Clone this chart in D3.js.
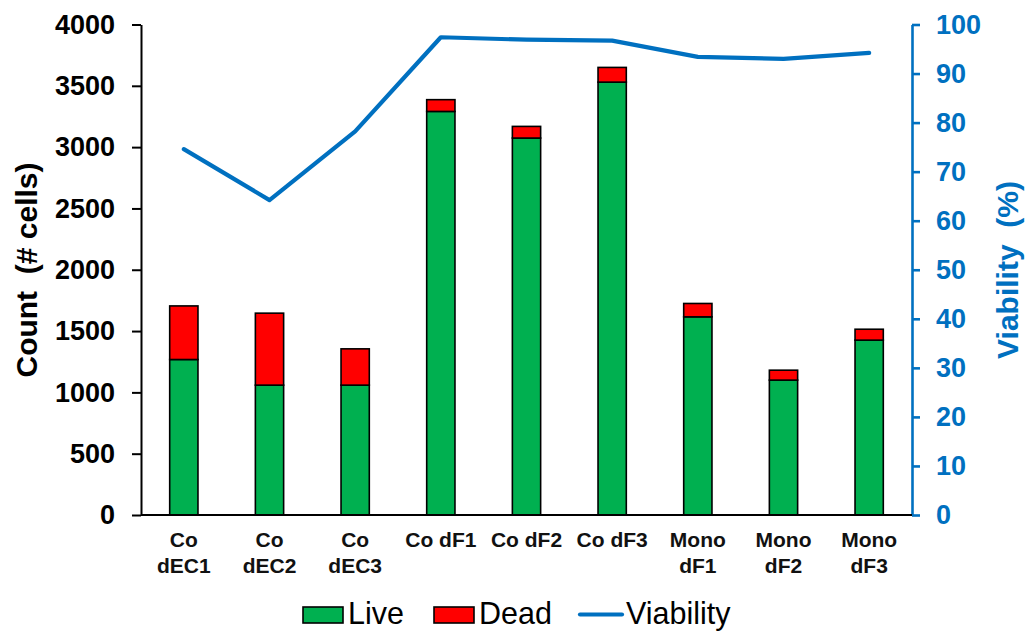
<!DOCTYPE html>
<html>
<head>
<meta charset="utf-8">
<script src="https://cdn.jsdelivr.net/npm/d3@7"></script>
<style>
  html, body { margin: 0; padding: 0; background: #fff; }
  svg { display: block; font-family: "Liberation Sans", Arial, sans-serif; }
</style>
</head>
<body>
<svg id="chart" width="1029" height="633"></svg>
<script>
// Sample groups (two-line labels split on "\n")
const categories = ["Co\ndEC1", "Co\ndEC2", "Co\ndEC3", "Co dF1", "Co dF2", "Co dF3", "Mono\ndF1", "Mono\ndF2", "Mono\ndF3"];
// Cell counts
const liveCounts = [1268, 1059, 1059, 3291, 3074, 3530, 1616, 1100, 1426];
const deadCounts = [437, 587, 296, 96, 95, 120, 109, 81, 89];
// Viability (%)
const viability = [74.6, 64.2, 78.2, 97.4, 96.9, 96.7, 93.4, 93.0, 94.2];
// Axis ticks
const countTicks = [0, 500, 1000, 1500, 2000, 2500, 3000, 3500, 4000];
const viabilityTicks = [0, 10, 20, 30, 40, 50, 60, 70, 80, 90, 100];

const GREEN = "#00B050", RED = "#FF0000", BLUE = "#0070C0";

const svg = d3.select("#chart");
const plotLeft = 141, plotRight = 912, plotTop = 24.5, plotBottom = 515;

const x = d3.scaleBand().domain(categories).range([plotLeft, plotRight]).paddingInner(0.67).paddingOuter(0.335);
const yCount = d3.scaleLinear().domain([0, 4000]).range([plotBottom, plotTop]);
const yViab = d3.scaleLinear().domain([0, 100]).range([plotBottom, plotTop]);

// Stacked bars: live at the base, dead on top
const rows = categories.map((c, i) => ({ cat: c, Live: liveCounts[i], Dead: deadCounts[i] }));
const stack = d3.stack().keys(["Live", "Dead"])(rows);
const colors = { Live: GREEN, Dead: RED };

svg.append("g").selectAll("g")
  .data(stack).join("g")
  .attr("fill", d => colors[d.key])
  .selectAll("rect")
  .data(d => d).join("rect")
  .attr("x", d => x(d.data.cat))
  .attr("width", x.bandwidth())
  .attr("y", d => yCount(d[1]))
  .attr("height", d => yCount(d[0]) - yCount(d[1]))
  .attr("stroke", "#000")
  .attr("stroke-width", 1.6);

// Left axis (count)
const leftAxis = svg.append("g")
  .attr("transform", `translate(${plotLeft},0)`)
  .call(d3.axisLeft(yCount).tickValues(countTicks).tickFormat(d3.format("d"))
    .tickSize(9).tickPadding(17).tickSizeOuter(0));
leftAxis.select(".domain").attr("stroke", "#000").attr("stroke-width", 2);
leftAxis.selectAll(".tick line").attr("stroke", "#000").attr("stroke-width", 2);
leftAxis.selectAll(".tick text")
  .attr("fill", "#000").attr("font-size", 27).attr("font-weight", "bold")
  .attr("font-family", "Liberation Sans, Arial, sans-serif");

// Right axis (viability)
const rightAxis = svg.append("g")
  .attr("transform", `translate(${plotRight},0)`)
  .call(d3.axisRight(yViab).tickValues(viabilityTicks).tickFormat(d3.format("d"))
    .tickSize(8).tickPadding(16).tickSizeOuter(0));
rightAxis.select(".domain").attr("stroke", BLUE).attr("stroke-width", 2.6);
rightAxis.selectAll(".tick line").attr("stroke", BLUE).attr("stroke-width", 2.6);
rightAxis.selectAll(".tick text")
  .attr("fill", BLUE).attr("font-size", 27).attr("font-weight", "bold")
  .attr("font-family", "Liberation Sans, Arial, sans-serif");

// Baseline
svg.append("line")
  .attr("x1", plotLeft).attr("x2", plotRight)
  .attr("y1", plotBottom).attr("y2", plotBottom)
  .attr("stroke", "#000").attr("stroke-width", 2);

// Category labels
const xl = svg.append("g").selectAll("text")
  .data(categories).join("text")
  .attr("x", d => x(d) + x.bandwidth() / 2)
  .attr("y", 547)
  .attr("text-anchor", "middle")
  .attr("font-size", 21).attr("font-weight", "bold").attr("fill", "#111");
xl.selectAll("tspan")
  .data(d => d.split("\n")).join("tspan")
  .attr("x", function () { return this.parentNode.getAttribute("x"); })
  .attr("dy", (d, i) => i === 0 ? 0 : 25.5)
  .text(d => d);

// Viability line
const line = d3.line()
  .x((d, i) => x(categories[i]) + x.bandwidth() / 2)
  .y(d => yViab(d));
svg.append("path")
  .datum(viability)
  .attr("d", line)
  .attr("fill", "none")
  .attr("stroke", BLUE)
  .attr("stroke-width", 4.2)
  .attr("stroke-linejoin", "round")
  .attr("stroke-linecap", "round");

// Axis titles
svg.append("text")
  .attr("transform", "translate(37,270) rotate(-90)")
  .attr("text-anchor", "middle")
  .attr("font-size", 30).attr("font-weight", "bold").attr("fill", "#000")
  .style("white-space", "pre")
  .text("Count  (# cells)");
svg.append("text")
  .attr("transform", "translate(1018,270) rotate(-90)")
  .attr("text-anchor", "middle")
  .attr("font-size", 30).attr("font-weight", "bold").attr("fill", BLUE)
  .style("white-space", "pre")
  .text("Viability  (%)");

// Legend
const legend = svg.append("g");
const legendItems = [
  { label: "Live", type: "rect", color: GREEN, x: 303 },
  { label: "Dead", type: "rect", color: RED, x: 434 },
  { label: "Viability", type: "line", color: BLUE, x: 580 }
];
legendItems.forEach(it => {
  if (it.type === "rect") {
    legend.append("rect")
      .attr("x", it.x).attr("y", 607).attr("width", 40).attr("height", 16)
      .attr("fill", it.color).attr("stroke", "#000").attr("stroke-width", 1.6);
  } else {
    legend.append("line")
      .attr("x1", it.x).attr("x2", it.x + 42).attr("y1", 614.5).attr("y2", 614.5)
      .attr("stroke", it.color).attr("stroke-width", 4.2).attr("stroke-linecap", "round");
  }
  legend.append("text")
    .attr("x", it.x + (it.type === "rect" ? 45 : 46)).attr("y", 624)
    .attr("font-size", 30.5).attr("fill", "#000")
    .text(it.label);
});
</script>
</body>
</html>
